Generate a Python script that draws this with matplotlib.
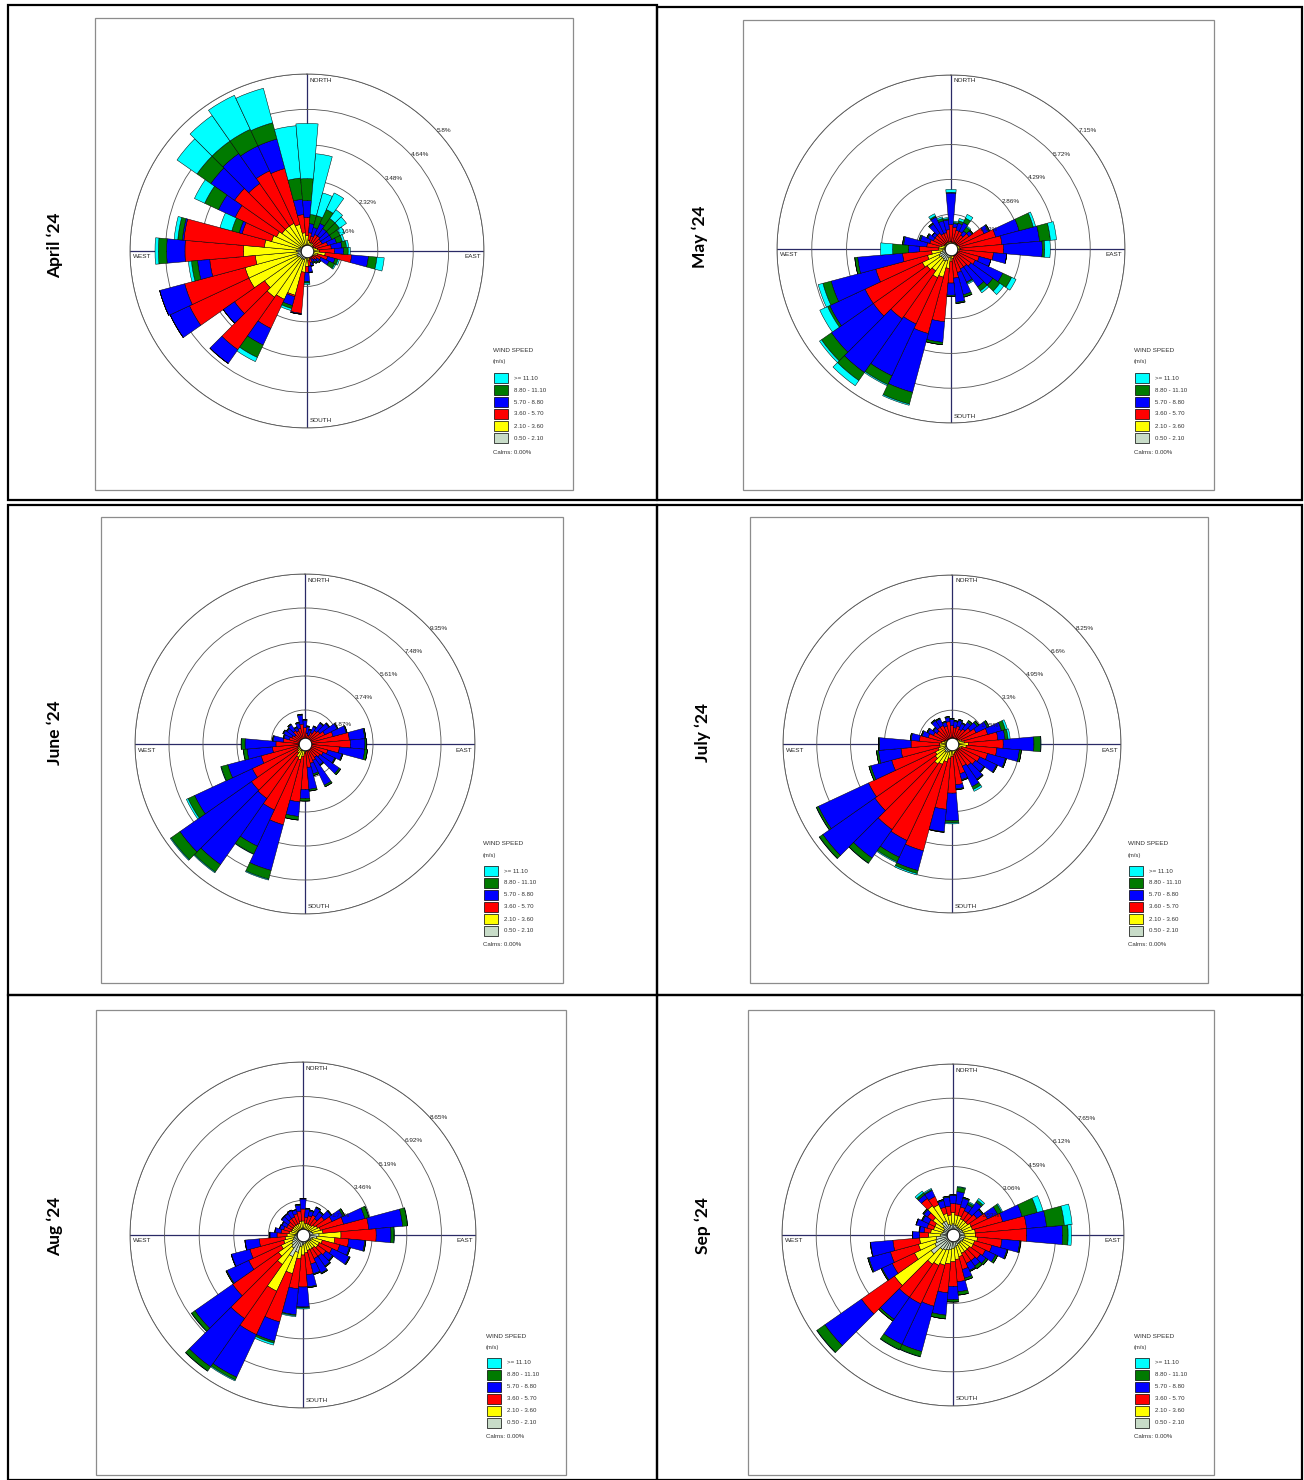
import numpy as np
import matplotlib
matplotlib.use("Agg")
import matplotlib.pyplot as plt
from matplotlib.patches import Rectangle

W, H = 1304, 1480

DIRECTIONS = list(range(10, 361, 10))
SPEED_CLASSES = ["0.50 - 2.10", "2.10 - 3.60", "3.60 - 5.70", "5.70 - 8.80", "8.80 - 11.10", ">= 11.10"]
CLASS_COLORS = ["#C8DCC8", "#FFFF00", "#FF0000", "#0000FF", "#007A00", "#00FFFF"]
MONTHS = ["April \u201824", "May \u201824", "June \u201824", "July \u201824", "Aug \u201824", "Sep \u201824"]
RING_STEP = [1.16, 1.43, 1.87, 1.65, 1.73, 1.53]
CALMS = ["0.00%", "0.00%", "0.00%", "0.00%", "0.00%", "0.00%"]

# cumulative frequency (%) of winds below each class upper bound, directions 10..360
apr_lt21 = [.15, .12, .12, .12, .1, .1, .12, .15, .15, .2, .15, .12, .1, .1, .1, .1, .12, .2,
            .25, .3, .3, .3, .3, .35, .35, .3, .35, .3, .25, .25, .2, .2, .2, .2, .2, .2]
apr_lt36 = [.35, .3, .3, .3, .25, .25, .3, .35, .4, .6, .35, .3, .25, .2, .2, .25, .3, .5,
            .7, 1.5, 1.75, 1.85, 1.7, 2.1, 2.1, 1.7, 2.08, 1.4, 1.2, 1.1, 1.0, 1.0, 1.0, .9, .6, .5]
apr_lt57 = [.6, .5, .6, .6, .55, .55, .7, .8, .9, 1.47, .7, .5, .4, .35, .3, .4, .5, .7,
            2.05, 1.55, 2.8, 3.95, 2.9, 4.25, 4.15, 3.2, 4.0, 4.05, 2.2, 2.6, 2.9, 2.7, 2.9, 2.8, 1.2, 1.1]
apr_lt88 = [.9, .8, 1.0, .9, .9, .9, 1.0, 1.15, 1.2, 2.02, .95, .8, .5, .45, .4, .5, .7, 1.0,
            2.08, 1.85, 3.4, 4.5, 3.35, 4.95, 5.0, 3.6, 4.6, 4.1, 2.3, 3.2, 3.85, 3.9, 3.8, 3.8, 1.7, 1.65]
apr_lt111 = [1.2, 1.2, 1.5, 1.3, 1.3, 1.2, 1.2, 1.3, 1.35, 2.3, 1.05, 1.0, .55, .5, .45, .52, .72, 1.05,
             2.08, 1.95, 3.85, 4.5, 3.35, 4.95, 5.0, 3.8, 4.87, 4.25, 2.55, 3.7, 4.4, 4.4, 4.4, 4.35, 2.4, 2.37]
apr_all = [3.2, 1.97, 2.1, 1.65, 1.58, 1.37, 1.27, 1.37, 1.42, 2.54, 1.1, 1.04, .55, .5, .45, .52, .72, 1.1,
           2.08, 2.02, 4.0, 4.5, 3.35, 4.95, 5.0, 3.9, 4.98, 4.37, 2.95, 4.07, 5.2, 5.42, 5.63, 5.52, 4.12, 4.18]

may_lt21 = [.12, .15, .15, .15, .15, .15, .18, .18, .2, .18, .15, .15, .15, .15, .15, .15, .2, .25,
            .35, .5, .55, .5, .5, .55, .45, .35, .25, .25, .2, .15, .15, .15, .15, .15, .15, .15]
may_lt36 = [.25, .3, .3, .3, .3, .3, .35, .35, .4, .35, .3, .3, .3, .3, .3, .3, .4, .5,
            .8, 1.2, 1.3, 1.1, 1.2, 1.3, 1.0, .8, .5, .5, .4, .3, .3, .3, .3, .3, .3, .3]
may_lt57 = [.9, .8, .8, .7, .9, 1.5, 1.9, 2.1, 2.16, 1.75, 1.2, 1.1, 1.0, .9, .9, 1.0, 1.2, 1.4,
            3.0, 3.6, 3.4, 3.5, 3.9, 3.9, 3.2, 2.0, 1.3, 1.0, .9, .8, .8, .8, .7, .7, .8, 1.0]
may_lt88 = [1.05, 1.1, 1.2, .9, 1.05, 1.7, 2.9, 3.65, 3.75, 2.3, 1.7, 2.35, 2.1, 1.9, 1.5, 1.95, 2.2, 1.9,
            3.85, 6.1, 5.75, 6.2, 6.0, 5.5, 5.1, 3.85, 1.75, 1.95, 1.3, 1.05, .95, 1.25, 1.45, 1.2, 1.2, 2.3]
may_lt111 = [1.1, 1.2, 1.4, 1.1, 1.1, 1.75, 3.5, 4.1, 3.85, 2.3, 1.7, 2.75, 2.45, 2.1, 1.55, 2.05, 2.25, 1.95,
             3.95, 6.6, 6.15, 6.6, 6.5, 5.6, 5.45, 3.97, 2.4, 2.0, 1.35, 1.1, .95, 1.3, 1.5, 1.3, 1.25, 2.33]
may_all = [1.15, 1.3, 1.57, 1.15, 1.1, 1.75, 3.6, 4.35, 4.08, 2.3, 1.7, 2.95, 2.65, 2.2, 1.6, 2.05, 2.25, 1.95,
           3.95, 6.65, 6.2, 6.86, 6.6, 5.95, 5.65, 3.97, 2.9, 2.0, 1.37, 1.1, .95, 1.3, 1.6, 1.37, 1.3, 2.45]

jun_lt21 = [.15, .15, .15, .15, .15, .15, .15, .18, .18, .18, .15, .15, .15, .15, .15, .18, .2, .25,
            .3, .4, .4, .3, .25, .22, .2, .18, .18, .15, .15, .15, .15, .15, .15, .15, .15, .15]
jun_lt36 = [.3, .3, .3, .3, .3, .3, .3, .35, .35, .35, .3, .3, .3, .3, .3, .35, .4, .5,
            .7, .9, .8, .6, .5, .45, .4, .35, .35, .3, .3, .3, .3, .3, .3, .3, .3, .3]
jun_lt57 = [.6, .5, .7, .9, 1.0, 1.2, 1.6, 2.45, 2.5, 1.9, 1.3, 1.1, 1.0, .9, 1.0, 1.1, 1.3, 2.5,
            3.2, 4.6, 4.0, 3.66, 3.6, 3.2, 2.5, 1.8, 1.6, 1.2, .9, .8, .7, .9, .8, .9, 1.1, .9]
jun_lt88 = [.95, .8, 1.05, 1.4, 1.6, 1.95, 2.35, 3.3, 3.3, 3.3, 2.1, 1.8, 2.3, 1.4, 2.5, 1.7, 2.5, 3.0,
            4.0, 7.2, 6.2, 8.1, 8.4, 6.7, 4.4, 3.2, 3.3, 1.75, 1.2, 1.3, 1.2, 1.3, 1.0, 1.2, 1.6, 1.3]
jun_lt111 = [1.0, .85, 1.1, 1.45, 1.65, 2.0, 2.4, 3.36, 3.4, 3.45, 2.15, 1.85, 2.4, 1.45, 2.6, 1.8, 2.6, 3.14,
             4.2, 7.7, 6.67, 8.6, 9.0, 7.1, 4.77, 3.4, 3.5, 1.8, 1.25, 1.35, 1.25, 1.35, 1.05, 1.25, 1.65, 1.35]
jun_all = [1.0, .85, 1.1, 1.45, 1.65, 2.0, 2.4, 3.36, 3.4, 3.45, 2.15, 1.85, 2.4, 1.45, 2.6, 1.8, 2.6, 3.14,
           4.2, 7.75, 6.7, 8.65, 9.05, 7.2, 4.8, 3.42, 3.52, 1.8, 1.25, 1.35, 1.25, 1.35, 1.05, 1.25, 1.65, 1.35]

jul_lt21 = [.15, .15, .15, .18, .18, .2, .25, .3, .35, .3, .25, .2, .2, .2, .2, .22, .25, .3,
            .35, .4, .45, .5, .45, .4, .35, .3, .3, .25, .2, .18, .15, .15, .15, .15, .15, .15]
jul_lt36 = [.3, .3, .3, .35, .35, .4, .5, .6, .8, .7, .5, .4, .4, .4, .4, .45, .5, .6,
            .7, .9, 1.1, 1.2, 1.0, .9, .7, .6, .6, .5, .4, .35, .3, .3, .3, .3, .3, .3]
jul_lt57 = [.8, .9, .8, .9, 1.1, 1.3, 1.8, 2.25, 2.5, 2.2, 1.8, 1.5, 1.4, 1.3, 1.2, 1.5, 2.0, 2.4,
            3.2, 5.4, 5.2, 5.1, 4.6, 4.5, 3.05, 2.5, 2.0, 1.6, 1.2, 1.0, .9, 1.0, 1.0, .9, 1.1, .9]
jul_lt88 = [1.1, 1.2, 1.1, 1.3, 1.5, 1.9, 2.5, 2.6, 4.0, 3.3, 2.7, 2.4, 1.9, 2.1, 2.3, 1.8, 2.2, 3.75,
            4.3, 6.4, 6.1, 6.8, 7.7, 7.2, 4.1, 3.6, 3.55, 2.0, 1.5, 1.3, 1.1, 1.4, 1.35, 1.1, 1.3, 1.2]
jul_lt111 = [1.15, 1.25, 1.15, 1.4, 1.6, 2.0, 2.7, 2.75, 4.33, 3.4, 2.75, 2.45, 1.95, 2.15, 2.45, 1.85, 2.25, 3.85,
             4.33, 6.55, 6.35, 7.1, 7.9, 7.3, 4.2, 3.7, 3.6, 2.05, 1.55, 1.35, 1.15, 1.45, 1.4, 1.15, 1.35, 1.25]
jul_all = [1.15, 1.25, 1.15, 1.4, 1.6, 2.0, 2.8, 2.85, 4.35, 3.4, 2.75, 2.45, 1.95, 2.15, 2.55, 1.85, 2.25, 3.9,
           4.33, 6.62, 6.4, 7.12, 7.92, 7.32, 4.2, 3.7, 3.6, 2.05, 1.55, 1.35, 1.15, 1.45, 1.4, 1.15, 1.35, 1.25]

aug_lt21 = [.3, .3, .3, .3, .35, .4, .45, .5, .8, .7, .5, .45, .45, .4, .4, .4, .45, .5,
            .6, .9, 1.2, .8, .7, .6, .5, .45, .4, .35, .3, .3, .3, .3, .3, .3, .35, .35]
aug_lt36 = [.6, .6, .6, .6, .7, .8, .9, 1.0, 1.9, 1.6, 1.0, .9, .9, .8, .8, .8, .9, 1.0,
            1.2, 2.0, 3.1, 1.8, 1.5, 1.2, 1.0, .9, .8, .7, .6, .6, .6, .6, .6, .6, .7, .7]
aug_lt57 = [.9, 1.0, 1.1, 1.0, 1.3, 1.6, 2.1, 3.3, 3.66, 2.3, 1.9, 1.6, 1.4, 1.3, 1.3, 1.5, 2.0, 2.6,
            2.7, 4.5, 5.5, 5.1, 4.3, 3.0, 2.75, 2.2, 1.3, 1.1, 1.0, .9, .9, 1.0, 1.0, 1.1, 1.2, 1.3]
aug_lt88 = [1.3, 1.25, 1.5, 1.4, 1.7, 2.2, 3.2, 5.0, 4.4, 3.1, 2.4, 2.55, 1.8, 1.9, 2.1, 2.0, 2.6, 3.6,
            4.0, 5.5, 7.85, 8.05, 6.6, 4.2, 3.7, 2.9, 1.65, 1.4, 1.2, 1.15, 1.3, 1.3, 1.35, 1.3, 1.5, 1.8]
aug_lt111 = [1.35, 1.3, 1.55, 1.45, 1.75, 2.3, 3.4, 5.24, 4.55, 3.15, 2.45, 2.6, 1.85, 1.95, 2.15, 2.05, 2.65, 3.65,
             4.05, 5.6, 8.0, 8.3, 6.8, 4.25, 3.72, 2.92, 1.68, 1.42, 1.22, 1.18, 1.33, 1.33, 1.38, 1.32, 1.55, 1.83]
aug_all = [1.35, 1.3, 1.55, 1.45, 1.75, 2.3, 3.42, 5.26, 4.57, 3.16, 2.45, 2.6, 1.85, 1.95, 2.15, 2.05, 2.65, 3.7,
           4.1, 5.7, 8.05, 8.32, 6.82, 4.25, 3.72, 2.92, 1.68, 1.42, 1.22, 1.18, 1.33, 1.33, 1.38, 1.32, 1.55, 1.83]

sep_lt21 = [.45, .45, .4, .4, .4, .45, .45, .5, .5, .55, .5, .5, .45, .45, .45, .5, .55, .6,
            .65, .7, .75, .8, 1.2, .9, .8, .75, .55, .5, .45, .45, .55, .7, .7, .5, .45, .5]
sep_lt36 = [.9, .9, .8, .8, .8, .9, .9, 1.0, 1.0, 1.1, 1.0, 1.0, .9, .9, .9, 1.0, 1.1, 1.2,
            1.3, 1.4, 1.5, 1.6, 3.2, 1.9, 1.6, 1.5, 1.1, 1.0, .9, .9, 1.1, 1.6, 1.5, 1.0, .9, 1.0]
sep_lt57 = [1.4, 1.3, 1.2, 1.2, 1.3, 1.7, 2.3, 3.3, 3.3, 2.2, 1.8, 1.6, 1.5, 1.4, 1.4, 1.6, 2.1, 2.3,
            2.6, 3.3, 3.4, 3.4, 5.0, 3.0, 2.9, 2.7, 1.5, 1.3, 1.2, 1.2, 1.4, 2.0, 1.9, 1.3, 1.3, 1.4]
sep_lt88 = [1.95, 1.7, 1.5, 1.8, 1.6, 2.2, 3.2, 4.2, 4.9, 3.0, 2.5, 2.1, 1.8, 1.7, 1.75, 2.0, 2.55, 2.9,
            3.6, 5.4, 5.4, 4.6, 7.0, 3.5, 3.9, 3.7, 1.8, 1.5, 1.7, 1.5, 1.6, 2.2, 2.2, 1.6, 1.7, 1.78]
sep_lt111 = [2.15, 1.75, 1.6, 1.9, 1.65, 2.4, 3.9, 5.0, 5.15, 3.05, 2.55, 2.2, 1.9, 1.85, 1.8, 2.1, 2.7, 3.0,
             3.77, 5.63, 5.66, 4.7, 7.43, 3.55, 3.95, 3.72, 1.82, 1.52, 1.72, 1.55, 1.65, 2.3, 2.25, 1.65, 1.75, 1.8]
sep_all = [2.18, 1.75, 1.65, 2.0, 1.65, 2.45, 4.17, 5.35, 5.3, 3.05, 2.55, 2.2, 1.9, 1.85, 1.8, 2.1, 2.7, 3.0,
           3.77, 5.65, 5.68, 4.7, 7.45, 3.55, 3.95, 3.72, 1.82, 1.52, 1.72, 1.55, 1.65, 2.4, 2.3, 1.65, 1.75, 1.8]

MONTH_DATA = [
  [apr_lt21, apr_lt36, apr_lt57, apr_lt88, apr_lt111, apr_all],
  [may_lt21, may_lt36, may_lt57, may_lt88, may_lt111, may_all],
  [jun_lt21, jun_lt36, jun_lt57, jun_lt88, jun_lt111, jun_all],
  [jul_lt21, jul_lt36, jul_lt57, jul_lt88, jul_lt111, jul_all],
  [aug_lt21, aug_lt36, aug_lt57, aug_lt88, aug_lt111, aug_all],
  [sep_lt21, sep_lt36, sep_lt57, sep_lt88, sep_lt111, sep_all],
]

# layout in pixels (x from left, y from top)
PANELS = [(8, 5, 649, 495), (657, 7, 645, 493), (8, 505, 649, 490),
          (657, 505, 645, 490), (8, 995, 649, 485), (657, 995, 645, 485)]
BOXES = [(95, 18, 573, 490), (743, 20, 1214, 490), (101, 517, 563, 983),
         (750, 517, 1208, 983), (96, 1010, 566, 1475), (748, 1010, 1214, 1475)]
CENTERS = [(307, 251, 177), (951, 249, 174), (305, 744, 170),
           (952, 744, 169), (303, 1235, 173), (953, 1235, 171)]
LABEL_POS = [(55, 245), (700, 237), (55, 733), (703, 733), (55, 1226), (703, 1226)]

TXT = ["Liberation Sans", "DejaVu Sans"]


def fx(x):
  return x / W


def fy(y):
  return 1 - y / H


def add_rect(fig, x, y, w, h, **kw):
  fig.add_artist(Rectangle((fx(x), fy(y + h)), w / W, h / H,
                           transform=fig.transFigure, **kw))


def draw_rose(fig, i):
  cx, cy, R = CENTERS[i]
  ax = fig.add_axes([fx(cx - R), fy(cy + R), 2 * R / W, 2 * R / H], projection="polar")
  ax.set_theta_zero_location("N")
  ax.set_theta_direction(-1)
  ax.set_facecolor("none")
  ax.set_axisbelow(True)

  step = RING_STEP[i]
  rmax = step * 5
  theta = np.deg2rad(DIRECTIONS)
  prev = np.zeros(len(DIRECTIONS))
  for cum, color in zip(MONTH_DATA[i], CLASS_COLORS):
    cum = np.asarray(cum)
    ax.bar(theta, cum - prev, width=np.deg2rad(10), bottom=prev, color=color,
           edgecolor="black", linewidth=0.35, zorder=2)
    prev = cum

  ax.plot([0], [0], marker="o", ms=9, mfc="white", mec="black", mew=0.6,
          zorder=5, clip_on=False)

  rings = [round(step * k, 2) for k in range(1, 6)]
  ax.set_ylim(0, rmax)
  ax.set_yticks(rings)
  ax.set_yticklabels([])
  ax.set_xticks(np.deg2rad([0, 90, 180, 270]))
  ax.set_xticklabels([])
  ax.grid(axis="y", color="#555555", linewidth=0.6)
  ax.grid(axis="x", color="#2A2A66", linewidth=0.9)
  ax.spines["polar"].set_color("#555555")
  ax.spines["polar"].set_linewidth(0.6)

  for k, r in enumerate(rings):
    ang = 56 if k == 0 else 47
    ax.text(np.deg2rad(ang), r, f"{r:g}%", fontsize=4.6, family=TXT,
            ha="left", va="center", color="#222222", zorder=6)

  # compass labels
  kw = dict(fontsize=4.6, family=TXT, color="#222222", va="center")
  fig.text(fx(cx + 3), fy(cy - R + 6), "NORTH", ha="left", **kw)
  fig.text(fx(cx + 3), fy(cy + R - 7), "SOUTH", ha="left", **kw)
  fig.text(fx(cx - R + 3), fy(cy + 6), "WEST", ha="left", **kw)
  fig.text(fx(cx + R - 3), fy(cy + 6), "EAST", ha="right", **kw)


def draw_legend(fig, i):
  _, _, br, bb = BOXES[i]
  lx = br - 80
  kw = dict(family=TXT, color="#333333", va="center", ha="left")
  fig.text(fx(lx), fy(bb - 139), "WIND SPEED", fontsize=4.6, **kw)
  fig.text(fx(lx), fy(bb - 128), "(m/s)", fontsize=4.2, **kw)
  for k, (lab, col) in enumerate(zip(SPEED_CLASSES[::-1], CLASS_COLORS[::-1])):
    yc = bb - 112 + 12 * k
    add_rect(fig, lx + 1, yc - 5, 14, 10, facecolor=col, edgecolor="black", linewidth=0.5)
    fig.text(fx(lx + 21), fy(yc), lab, fontsize=4.4, **kw)
  fig.text(fx(lx), fy(bb - 38), "Calms: " + CALMS[i], fontsize=4.4, **kw)


def main():
  fig = plt.figure(figsize=(W / 100, H / 100), dpi=100)
  fig.patch.set_facecolor("white")

  for (x, y, w, h) in PANELS:
    add_rect(fig, x, y, w, h, facecolor="none", edgecolor="black", linewidth=1.6)
  for (x0, y0, x1, y1) in BOXES:
    add_rect(fig, x0, y0, x1 - x0, y1 - y0, facecolor="none", edgecolor="#8C8C8C", linewidth=0.9)

  for i in range(6):
    draw_rose(fig, i)
    draw_legend(fig, i)
    lx, ly = LABEL_POS[i]
    fig.text(fx(lx), fy(ly), MONTHS[i], rotation=90, fontsize=12.5, fontweight="bold",
             family=["Lato", "DejaVu Sans"], ha="center", va="center")

  fig.savefig("out.png", dpi=100)
  plt.close(fig)


if __name__ == "__main__":
  main()
